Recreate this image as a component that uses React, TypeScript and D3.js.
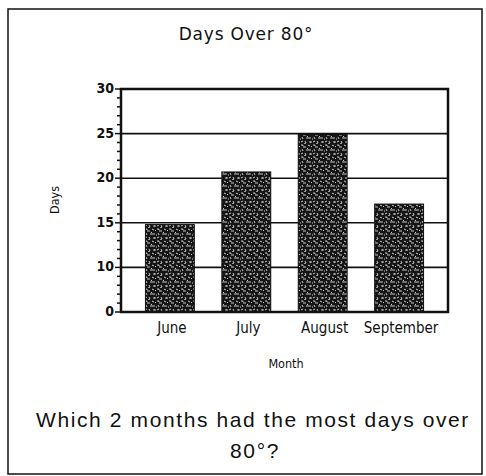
import React from "react";
import * as d3 from "d3";

const months = ["June", "July", "August", "September"];
const days = [14.8, 20.7, 24.9, 17.1];
const yTickValues = [5, 10, 15, 20, 25, 30];
const yTickLabels = ["0", "10", "15", "20", "25", "30"];
const gridValues = [10, 15, 20, 25];
const title = "Days Over 80°";
const xTitle = "Month";
const yTitle = "Days";
const question1 = "Which 2 months had the most days over";
const question2 = "80°?";

const W = 486;
const H = 476;
const plot = { left: 121, right: 448, top: 89, bottom: 312 };

const specks = [
  "M1 1 l2 0 l0 1", "M5 2 l0 2", "M8 1 l2 1", "M2 5 l1 2", "M6 6 l3 0",
  "M10 5 l0 2", "M1 10 l2 -1", "M5 9 l1 2", "M9 10 l2 0", "M3 3 l1 0",
  "M7 4 l1 1", "M11 9 l0 2", "M0 7 l1 0", "M4 12 l2 -1", "M12 2 l-1 1",
];

export default function App() {
  const x = d3
    .scaleBand<string>()
    .domain(months)
    .range([plot.left, plot.right])
    .paddingInner(0.36)
    .paddingOuter(0.32);
  const y = d3.scaleLinear().domain([5, 30]).range([plot.bottom, plot.top]);
  const minor = d3.range(5, 31).filter((v) => !yTickValues.includes(v));
  const cond = "'DejaVu Sans Condensed', 'DejaVu Sans', sans-serif";

  return (
    <svg
      width={W}
      height={H}
      style={{ position: "absolute", left: 0, top: 0, background: "#fff" }}
    >
      <defs>
        <pattern id="speckle" width={12} height={12} patternUnits="userSpaceOnUse">
          <rect width={12} height={12} fill="#151515" />
          {specks.map((d, i) => (
            <path key={i} d={d} stroke="#dcdcdc" strokeWidth={0.9} fill="none" />
          ))}
        </pattern>
      </defs>
      <rect x={8} y={9} width={474} height={465} fill="none" stroke="#111" strokeWidth={1.5} />
      <text x={246} y={40} textAnchor="middle" fontFamily="'DejaVu Sans', sans-serif" fontSize={17} letterSpacing={0.8} fill="#111">
        {title}
      </text>

      {gridValues.map((v) => (
        <line key={v} x1={plot.left} x2={plot.right} y1={y(v)} y2={y(v)} stroke="#111" strokeWidth={1.6} />
      ))}

      {months.map((m, i) => (
        <rect
          key={m}
          x={x(m)}
          y={y(days[i])}
          width={x.bandwidth()}
          height={y(5) - y(days[i])}
          fill="url(#speckle)"
          stroke="#111"
          strokeWidth={1}
        />
      ))}

      <rect
        x={plot.left}
        y={plot.top}
        width={plot.right - plot.left}
        height={plot.bottom - plot.top}
        fill="none"
        stroke="#111"
        strokeWidth={2.5}
      />

      {minor.map((v) => (
        <line key={v} x1={plot.left - 4} x2={plot.left} y1={y(v)} y2={y(v)} stroke="#111" strokeWidth={1.5} />
      ))}
      {yTickValues.map((v, i) => (
        <g key={v}>
          <line x1={plot.left - 6} x2={plot.left} y1={y(v)} y2={y(v)} stroke="#111" strokeWidth={1.5} />
          <text
            x={plot.left - 7}
            y={y(v) + 4}
            textAnchor="end"
            fontFamily={cond}
            fontSize={14}
            fontWeight="bold"
            fill="#111"
          >
            {yTickLabels[i]}
          </text>
        </g>
      ))}

      {months.map((m) => (
        <text
          key={m}
          x={(x(m) as number) + x.bandwidth() / 2 + 2}
          y={333}
          textAnchor="middle"
          fontFamily={cond}
          fontSize={15}
          fill="#111"
        >
          {m}
        </text>
      ))}

      <text x={286} y={368} textAnchor="middle" fontFamily={cond} fontSize={12.5} fill="#111">
        {xTitle}
      </text>
      <text
        transform="translate(59,200) rotate(-90)"
        textAnchor="middle"
        fontFamily={cond}
        fontSize={12.5}
        fill="#111"
      >
        {yTitle}
      </text>

      <text
        x={253}
        y={427}
        textAnchor="middle"
        fontFamily="'Liberation Sans', Arial, sans-serif"
        fontSize={21}
        letterSpacing={1.6}
        fill="#111"
      >
        {question1}
      </text>
      <text
        x={255}
        y={458}
        textAnchor="middle"
        fontFamily="'Liberation Sans', Arial, sans-serif"
        fontSize={21}
        letterSpacing={1.6}
        fill="#111"
      >
        {question2}
      </text>
    </svg>
  );
}
